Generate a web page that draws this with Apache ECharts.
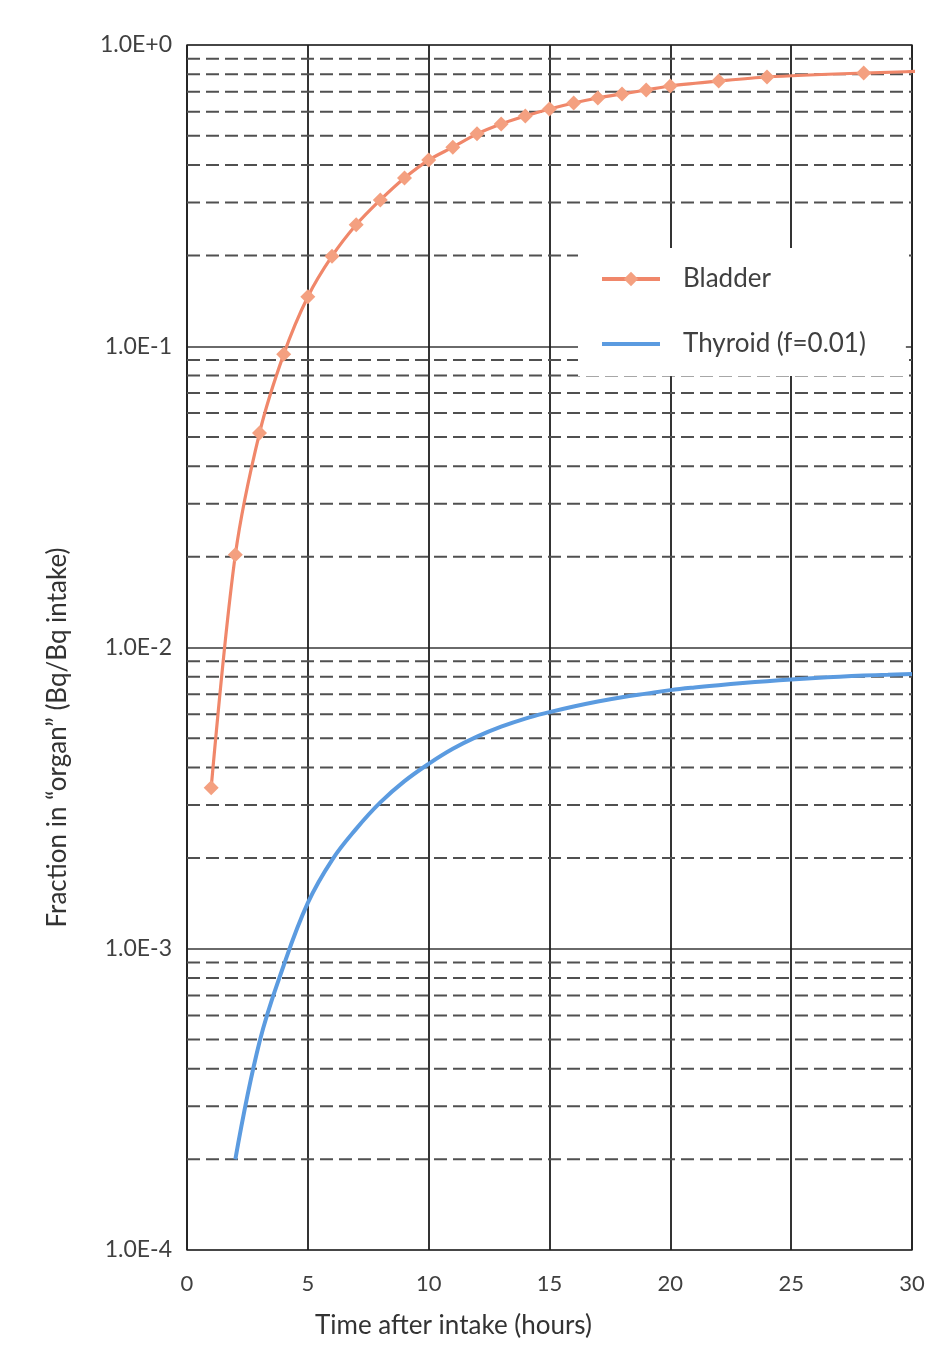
<!DOCTYPE html>
<html><head><meta charset="utf-8">
<script src="https://cdn.jsdelivr.net/npm/echarts@6/dist/echarts.min.js"></script>
<style>html,body{margin:0;padding:0;background:#fff}#c{width:933px;height:1353px}</style>
</head><body><div id="c"></div>
<script>
// ---- data ----
const bladderHours = [1,2,3,4,5,6,7,8,9,10,11,12,13,14,15,16,17,18,19,20,22,24,28,32];
const bladderFraction = [0.00342,0.0203,0.0515,0.094,0.146,0.199,0.253,0.306,0.362,0.415,0.458,0.507,0.547,0.581,0.613,0.642,0.667,0.688,0.709,0.731,0.759,0.783,0.807,0.825];
const thyroidHours = [2,3,4,5,6,7,8,9,10,11,12,13,14,15,16,17,18,19,20,21,22,23,24,25,26,27,28,29,30];
const thyroidFraction = [0.0002,0.00049,0.00088,0.00142,0.00197,0.0025,0.00306,0.0036,0.00411,0.00461,0.00506,0.00546,0.00581,0.0061,0.00637,0.00662,0.00684,0.00703,0.00722,0.00737,0.0075,0.00762,0.00773,0.00783,0.00792,0.008,0.00807,0.00812,0.00817];
const xTickLabels = [0,5,10,15,20,25,30];
const yDecades = [0.0001,0.001,0.01,0.1,1];
const minorMultipliers = [2,3,4,5,6,7,8,9];

const FONT = 'Lato, "Liberation Sans", sans-serif';
const xMin = xTickLabels[0], xMax = xTickLabels[xTickLabels.length - 1];

// dashed minor gridlines (2..9 × each decade), drawn through the axes
const minorSeries = [];
yDecades.slice(0, -1).forEach(d => minorMultipliers.forEach(m => {
  const v = d * m;
  minorSeries.push({
    name: 'minor-' + v, type: 'line', silent: true, z: 1, symbol: 'none', showSymbol: false,
    data: [[xMin, v], [xMax, v]],
    lineStyle: { type: [13, 6], color: '#505050', width: 2 },
    emphasis: { disabled: true }, tooltip: { show: false }
  });
}));

const chart = echarts.init(document.getElementById('c'), null, { renderer: 'canvas' });
chart.setOption({
  animation: false,
  backgroundColor: '#fff',
  grid: { left: 187, right: 21, top: 45, bottom: 103, show: true, borderColor: '#404040', borderWidth: 1.5, backgroundColor: 'transparent' },
  legend: {
    data: [
      { name: 'Bladder', lineStyle: { width: 4 } },
      { name: 'Thyroid (f=0.01)', lineStyle: { width: 4 }, itemStyle: { opacity: 0 } }
    ],
    orient: 'vertical', left: 578, top: 248,
    backgroundColor: '#fff',
    padding: [16, 40, 17, 22],
    itemWidth: 58, itemHeight: 18, itemGap: 35,
    textStyle: { fontSize: 26, color: '#404040', fontFamily: FONT, lineHeight: 30, padding: [0, 0, 0, 18] },
    z: 10
  },
  xAxis: {
    type: 'value', min: xMin, max: xMax, interval: 5,
    name: 'Time after intake (hours)', nameLocation: 'middle', nameGap: 63,
    nameTextStyle: { fontSize: 26, color: '#333', fontFamily: FONT, padding: [0, 192, 0, 0] },
    axisLine: { show: false }, axisTick: { show: false },
    axisLabel: { fontSize: 22, color: '#404040', fontFamily: FONT, margin: 23 },
    splitLine: { show: true, lineStyle: { color: '#1e1e1e', width: 1.8 } }
  },
  yAxis: {
    type: 'log', logBase: 10, min: yDecades[0], max: yDecades[yDecades.length - 1],
    name: 'Fraction in \u201corgan\u201d (Bq/Bq intake)', nameLocation: 'middle', nameGap: 116, nameRotate: 90,
    nameTextStyle: { fontSize: 26, color: '#333', fontFamily: FONT, padding: [0, 180, 0, 0] },
    axisLine: { show: false }, axisTick: { show: false },
    axisLabel: {
      fontSize: 23, color: '#404040', fontFamily: FONT, margin: 15,
      formatter: v => { const e = Math.round(Math.log10(v)); return '1.0E' + (e >= 0 ? '+' : '') + e; }
    },
    splitLine: { show: true, lineStyle: { color: '#383838', width: 1.6 } }
  },
  series: minorSeries.concat([
    {
      name: 'Bladder', type: 'line', z: 3, clip: true, smooth: 0.3,
      data: bladderHours.map((h, i) => [h, bladderFraction[i]]),
      symbol: 'diamond', symbolSize: 15,
      lineStyle: { color: '#F0876A', width: 3.2 },
      itemStyle: { color: '#F4A080' }
    },
    {
      name: 'Thyroid (f=0.01)', type: 'line', z: 3, clip: true, smooth: 0.4,
      data: thyroidHours.map((h, i) => [h, thyroidFraction[i]]),
      symbol: 'none', showSymbol: false,
      lineStyle: { color: '#5B9BE0', width: 4 },
      itemStyle: { color: '#5B9BE0' }
    }
  ])
});
</script></body></html>
